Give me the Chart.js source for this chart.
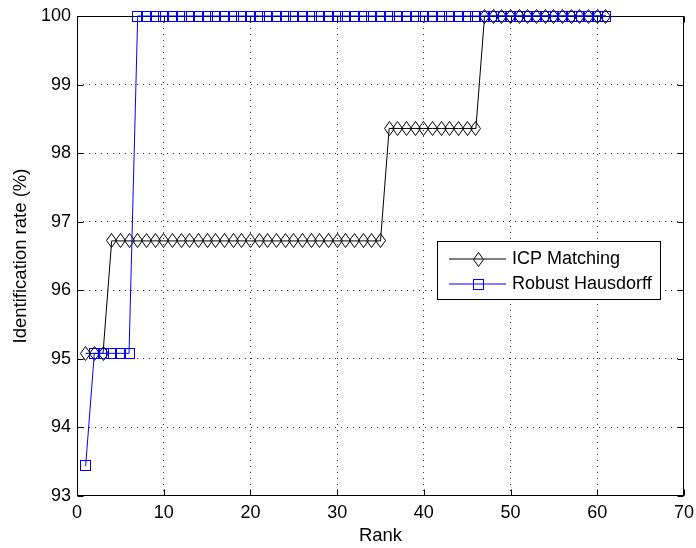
<!DOCTYPE html>
<html><head><meta charset="utf-8">
<script src="https://cdn.jsdelivr.net/npm/chart.js@4.4.1/dist/chart.umd.min.js"></script>
<style>html,body{margin:0;padding:0;background:#fff;}#wrap{width:696px;height:548px;}</style>
</head><body><div id="wrap"><canvas id="c" width="696" height="548"></canvas></div>
<script>
const ranks = [1,2,3,4,5,6,7,8,9,10,11,12,13,14,15,16,17,18,19,20,21,22,23,24,25,26,27,28,29,30,
  31,32,33,34,35,36,37,38,39,40,41,42,43,44,45,46,47,48,49,50,51,52,53,54,55,56,57,58,59,60,61];
const icpMatching = [95.08,95.08,95.08,
  96.72,96.72,96.72,96.72,96.72,96.72,96.72,96.72,
  96.72,96.72,96.72,96.72,96.72,96.72,96.72,96.72,
  96.72,96.72,96.72,96.72,96.72,96.72,96.72,96.72,
  96.72,96.72,96.72,96.72,96.72,96.72,96.72,96.72,
  98.36,98.36,98.36,98.36,98.36,98.36,98.36,98.36,98.36,98.36,98.36,
  100,100,100,100,100,100,100,100,100,100,100,100,100,100,100];
const robustHausdorff = [93.44,
  95.08,95.08,95.08,95.08,95.08,
  100,100,100,100,100,100,100,100,100,100,100,
  100,100,100,100,100,100,100,100,100,100,100,
  100,100,100,100,100,100,100,100,100,100,100,
  100,100,100,100,100,100,100,100,100,100,100,
  100,100,100,100,100,100,100,100,100,100,100];
const seriesNames = ['ICP Matching','Robust Hausdorff'];
const xTicks = [0,10,20,30,40,50,60,70];
const yTicks = [93,94,95,96,97,98,99,100];
const xTitle = 'Rank';
const yTitle = 'Identification rate (%)';

const FONT = "'Liberation Sans', Arial, Helvetica, sans-serif";

function makeDiamond(w,h,color){
  const c=document.createElement('canvas');c.width=w+1;c.height=h+1;
  const g=c.getContext('2d');g.strokeStyle=color;g.lineWidth=1;g.beginPath();
  g.moveTo((w+1)/2,0.5);g.lineTo(w+0.5,(h+1)/2);g.lineTo((w+1)/2,h+0.5);g.lineTo(0.5,(h+1)/2);
  g.closePath();g.stroke();return c;
}
function makeSquare(s,color){
  const c=document.createElement('canvas');c.width=s+1;c.height=s+1;
  const g=c.getContext('2d');g.strokeStyle=color;g.lineWidth=1;g.strokeRect(0.5,0.5,s,s);return c;
}
const diamond = makeDiamond(10,14,'#000');
const square = makeSquare(10,'#0000ff');

const boxPlugin = {
  id:'boxTicks',
  beforeDatasetsDraw(chart){
    const {ctx, chartArea:a, scales} = chart;
    ctx.save();
    ctx.strokeStyle='#000';ctx.lineWidth=1;
    const L=Math.round(a.left)+0.5, R=Math.round(a.right)-0.5, T=Math.round(a.top)+0.5, B=Math.round(a.bottom)-0.5;
    ctx.strokeRect(L,T,R-L,B-T);
    ctx.beginPath();
    xTicks.forEach(v=>{const x=Math.round(scales.x.getPixelForValue(v))+0.5;
      ctx.moveTo(x,B);ctx.lineTo(x,B-6);ctx.moveTo(x,T);ctx.lineTo(x,T+6);});
    yTicks.forEach(v=>{const y=Math.round(scales.y.getPixelForValue(v))+0.5;
      ctx.moveTo(L,y);ctx.lineTo(L+6,y);ctx.moveTo(R,y);ctx.lineTo(R-6,y);});
    ctx.stroke();
    ctx.restore();
    ctx.save();
    ctx.imageSmoothingEnabled=false;
  },
  afterDatasetsDraw(chart){
    chart.ctx.restore();
  },
  afterDraw(chart){
    const ctx=chart.ctx;
    ctx.save();
    ctx.imageSmoothingEnabled=false;
    ctx.fillStyle='#fff';ctx.fillRect(438,242,223,58);
    ctx.strokeStyle='#000';ctx.lineWidth=1;ctx.strokeRect(437.5,241.5,223,58);
    const rows=[{y:258,color:'#000',img:diamond,name:seriesNames[0]},{y:283,color:'#0000ff',img:square,name:seriesNames[1]}];
    rows.forEach(r=>{
      ctx.strokeStyle=r.color;ctx.lineWidth=1;ctx.beginPath();ctx.moveTo(449,r.y+1);ctx.lineTo(506,r.y+1);ctx.stroke();
      ctx.drawImage(r.img,478-Math.floor(r.img.width/2),r.y-Math.floor(r.img.height/2)+1);
      ctx.fillStyle='#000';ctx.font='18px '+FONT;ctx.textBaseline='middle';ctx.textAlign='left';
      ctx.fillText(r.name,512,r.y+1);
    });
    ctx.restore();
  }
};

const gridColor = (edgeVals)=> (c)=> (c.tick && edgeVals.includes(c.tick.value)) ? 'rgba(0,0,0,0)' : 'rgba(0,0,0,0.8)';

new Chart(document.getElementById('c'), {
  type:'line',
  data:{
    datasets:[
      {label:seriesNames[0], data:ranks.map((r,i)=>({x:r,y:icpMatching[i]})), borderColor:'#000', borderWidth:1,
       pointStyle:diamond, pointRadius:7, pointHoverRadius:7, fill:false, tension:0, clip:false, order:1},
      {label:seriesNames[1], data:ranks.map((r,i)=>({x:r,y:robustHausdorff[i]})), borderColor:'#0000ff', borderWidth:1,
       pointStyle:square, pointRadius:6, pointHoverRadius:6, fill:false, tension:0, clip:false, order:0}
    ]
  },
  options:{
    responsive:false, animation:false, devicePixelRatio:1,
    layout:{padding:{left:0,top:16,right:12,bottom:0}},
    plugins:{legend:{display:false},tooltip:{enabled:false}},
    scales:{
      x:{type:'linear',min:0,max:70,
        afterFit(s){s.height=52;s.paddingLeft=0;s.paddingRight=0;},
        afterBuildTicks(s){s.ticks=xTicks.map(v=>({value:v}));},
        grid:{drawTicks:false,tickLength:0,color:gridColor([0,70]),lineWidth:1},
        border:{display:false,dash:[1,5]},
        ticks:{padding:6,color:'#000',font:{family:FONT,size:18},maxRotation:0,autoSkip:false},
        title:{display:true,text:xTitle,color:'#000',font:{family:FONT,size:18.5},padding:{top:0,bottom:1}}
      },
      y:{type:'linear',min:93,max:100,
        afterFit(s){s.width=77;s.paddingTop=0;s.paddingBottom=0;},
        afterBuildTicks(s){s.ticks=yTicks.map(v=>({value:v}));},
        grid:{drawTicks:false,tickLength:0,color:gridColor([93,100]),lineWidth:1},
        border:{display:false,dash:[1,5]},
        ticks:{padding:6,color:'#000',font:{family:FONT,size:18},autoSkip:false},
        title:{display:true,text:yTitle,color:'#000',font:{family:FONT,size:18.5},padding:{top:10,bottom:0}}
      }
    }
  },
  plugins:[boxPlugin]
});
</script></body></html>
